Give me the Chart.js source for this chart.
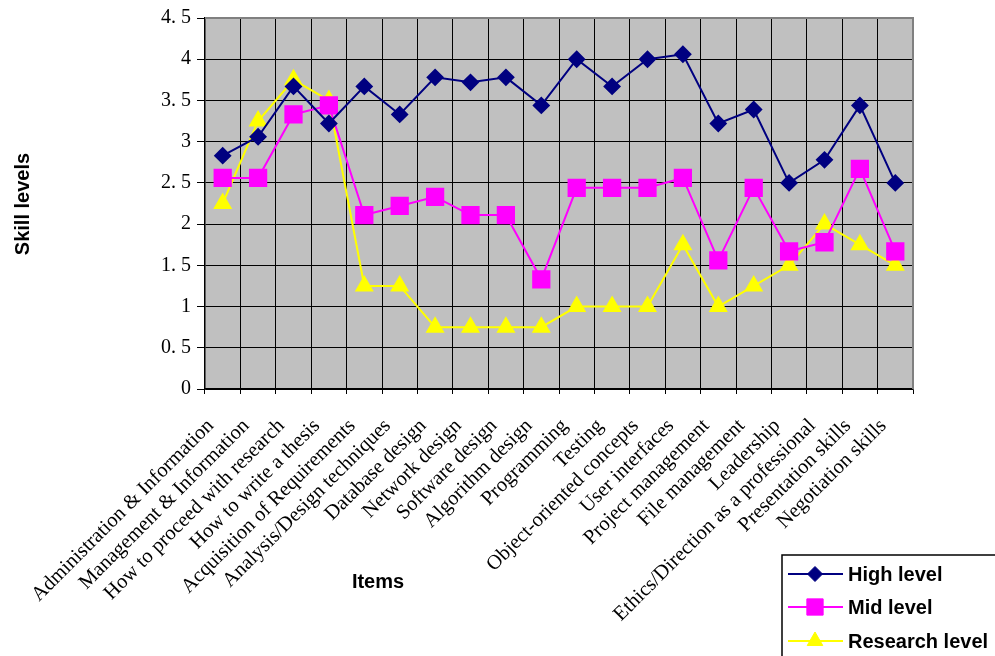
<!DOCTYPE html>
<html><head><meta charset="utf-8">
<script src="https://cdn.jsdelivr.net/npm/chart.js@4"></script>
<style>html,body{margin:0;padding:0;background:#fff;overflow:hidden}#wrap{width:995px;height:656px;position:relative}</style>
</head><body><div id="wrap"><canvas id="c" width="995" height="656"></canvas></div>
<script>
const categories = [
  'Administration & Information',
  'Management & Information',
  'How to proceed with research',
  'How to write a thesis',
  'Acquisition of Requirements',
  'Analysis/Design techniques',
  'Database design',
  'Network design',
  'Software design',
  'Algorithm design',
  'Programming',
  'Testing',
  'Object-oriented concepts',
  'User interfaces',
  'Project management',
  'File management',
  'Leadership',
  'Ethics/Direction as a professional',
  'Presentation skills',
  'Negotiation skills'
];
const highLevel =     [2.83, 3.06, 3.67, 3.22, 3.67, 3.33, 3.78, 3.72, 3.78, 3.44, 4.00, 3.67, 4.00, 4.06, 3.22, 3.39, 2.50, 2.78, 3.44, 2.50];
const midLevel =      [2.56, 2.56, 3.33, 3.44, 2.11, 2.22, 2.33, 2.11, 2.11, 1.33, 2.44, 2.44, 2.44, 2.56, 1.56, 2.44, 1.67, 1.78, 2.67, 1.67];
const researchLevel = [2.25, 3.25, 3.75, 3.50, 1.25, 1.25, 0.75, 0.75, 0.75, 0.75, 1.00, 1.00, 1.00, 1.75, 1.00, 1.25, 1.50, 2.00, 1.75, 1.50];
const seriesNames = ['High level', 'Mid level', 'Research level'];
const yMin = 0, yMax = 4.5, yStep = 0.5;
const xTitle = 'Items';
const yTitle = 'Skill levels';

const plotBg = {
  id: 'plotBg',
  beforeDraw(chart) {
    const {ctx, chartArea: a} = chart;
    ctx.save();
    ctx.fillStyle = '#C0C0C0';
    ctx.fillRect(a.left, a.top, a.right - a.left, a.bottom - a.top);
    ctx.restore();
  },
  afterDatasetsDraw(chart) {
    const {ctx, chartArea: a} = chart;
    ctx.save();
    ctx.strokeStyle = '#808080';
    ctx.lineWidth = 2;
    ctx.beginPath();
    ctx.moveTo(a.left, a.top);
    ctx.lineTo(a.right, a.top);
    ctx.lineTo(a.right, a.bottom);
    ctx.stroke();
    ctx.restore();
  }
};

const extras = {
  id: 'extras',
  afterDraw(chart) {
    const ctx = chart.ctx;
    ctx.save();
    ctx.fillStyle = '#000';
    ctx.font = 'bold 20px "Liberation Sans", Arial, sans-serif';
    ctx.textAlign = 'center';
    ctx.textBaseline = 'middle';
    ctx.fillText(xTitle, 378, 582);
    ctx.translate(23, 204);
    ctx.rotate(-Math.PI / 2);
    ctx.fillText(yTitle, 0, 0);
    ctx.restore();

    ctx.save();
    ctx.fillStyle = '#fff';
    ctx.strokeStyle = '#000';
    ctx.lineWidth = 1.5;
    ctx.fillRect(782, 555, 240, 120);
    ctx.strokeRect(782, 555, 240, 120);
    const rows = [574, 607, 641];
    chart.data.datasets.forEach((ds, i) => {
      const y = rows[i];
      ctx.strokeStyle = ds.borderColor;
      ctx.lineWidth = 2;
      ctx.beginPath();
      ctx.moveTo(788, y);
      ctx.lineTo(843, y);
      ctx.stroke();
      ctx.fillStyle = ds.pointBackgroundColor;
      ctx.strokeStyle = ds.pointBorderColor;
      ctx.lineWidth = 1;
      Chart.helpers.drawPoint(ctx, {pointStyle: ds.pointStyle, radius: ds.pointRadius, rotation: 0, borderWidth: 1}, 815, y);
      ctx.fillStyle = '#000';
      ctx.font = 'bold 20px "Liberation Sans", Arial, sans-serif';
      ctx.textAlign = 'left';
      ctx.textBaseline = 'middle';
      ctx.fillText(ds.label, 848, y + 1);
    });
    ctx.restore();
  }
};

const styles = [
  {color: '#000080', point: 'rectRot', r: 7.5},
  {color: '#FF00FF', point: 'rect', r: 11.5},
  {color: '#FFFF00', point: 'triangle', r: 9}
];
const seriesData = [highLevel, midLevel, researchLevel];

new Chart(document.getElementById('c'), {
  type: 'line',
  data: {
    labels: categories,
    datasets: seriesData.map((d, i) => ({
      label: seriesNames[i],
      data: d,
      borderColor: styles[i].color,
      backgroundColor: styles[i].color,
      pointBackgroundColor: styles[i].color,
      pointBorderColor: styles[i].color,
      pointStyle: styles[i].point,
      pointRadius: styles[i].r,
      pointHoverRadius: styles[i].r,
      borderWidth: 2,
      tension: 0,
      fill: false
    }))
  },
  options: {
    responsive: false,
    animation: false,
    devicePixelRatio: 1,
    layout: {padding: {top: 15, right: 82, left: 0, bottom: 0}},
    plugins: {legend: {display: false}, tooltip: {enabled: false}, title: {display: false}},
    scales: {
      x: {
        offset: true,
        grid: {offset: true, color: '#000', lineWidth: 1, tickLength: 5, drawTicks: true},
        border: {color: '#000', width: 1.5},
        ticks: {
          autoSkip: false, minRotation: 45, maxRotation: 45, color: '#000', padding: 20, labelOffset: -12,
          font: {family: '"Liberation Serif", "Times New Roman", serif', size: 20.5}
        },
        afterFit(scale) { scale.height = 267; }
      },
      y: {
        min: yMin, max: yMax,
        grid: {color: '#000', lineWidth: 1, tickLength: 8, drawTicks: true},
        border: {color: '#000', width: 1.5},
        ticks: {
          stepSize: yStep, color: '#000', padding: 6,
          font: {family: '"Liberation Serif", "Times New Roman", serif', size: 20},
          callback: v => String(v).replace('.', '. ')
        },
        afterFit(scale) { scale.width = 205; }
      }
    }
  },
  plugins: [plotBg, extras]
});
</script>
</body></html>
